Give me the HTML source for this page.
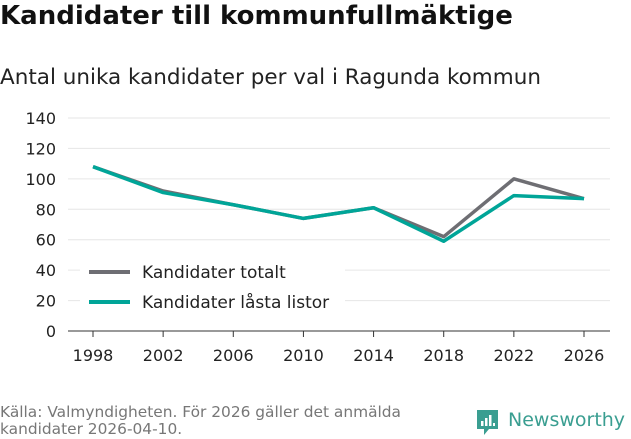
<!DOCTYPE html>
<html><head><meta charset="utf-8"><style>
body{margin:0;width:631px;height:439px;background:#fff;font-family:"DejaVu Sans","Liberation Sans",sans-serif;overflow:hidden;position:relative}
.t{position:absolute;white-space:nowrap}
</style></head><body>
<div class="t" style="left:0;top:1px;font-size:26px;font-weight:bold;color:#111">Kandidater till kommunfullmäktige</div>
<div class="t" style="left:0;top:65px;font-size:21.5px;color:#222">Antal unika kandidater per val i Ragunda kommun</div>
<svg id="c" width="631" height="439" style="position:absolute;left:0;top:0"></svg>
<div class="t" style="left:0;top:404px;font-size:15.4px;line-height:17px;color:#777">Källa: Valmyndigheten. För 2026 gäller det anmälda<br>kandidater 2026-04-10.</div>
<div style="position:absolute;left:476px;top:409px">
<svg width="24" height="28" style="position:absolute;left:0;top:0"><path d="M1 1h21v19H13l-5 6v-6H1z" fill="#3a9e91"/><rect x="5" y="12" width="2.5" height="5" fill="#fff"/><rect x="9" y="9" width="2.5" height="8" fill="#fff"/><rect x="13" y="6" width="2.5" height="11" fill="#fff"/><rect x="17" y="14" width="2" height="3" fill="#fff"/></svg>
<div class="t" style="left:32px;top:0px;font-size:19px;color:#3a9e91;font-weight:500">Newsworthy</div></div>
<script>
const years=[1998,2002,2006,2010,2014,2018,2022,2026];
const totalt=[108,92,83,74,81,62,100,87];
const lasta=[108,91,83,74,81,59,89,87];
const yTicks=[0,20,40,60,80,100,120,140];
const svg=document.getElementById('c');const NS='http://www.w3.org/2000/svg';
const x=v=>93+(v-1998)*(584-93)/28;const y=v=>331-v*(331-118)/140;
function el(t,a,p){const e=document.createElementNS(NS,t);for(const k in a)e.setAttribute(k,a[k]);(p||svg).appendChild(e);return e;}
yTicks.forEach(v=>{if(v>0){const g=el('line',{x1:68,x2:610,y1:y(v),y2:y(v),stroke:'#e6e6e6'});}
const t=el('text',{x:56,y:y(v)+6,'text-anchor':'end','font-size':16,fill:'#222'});t.textContent=v;
});
const ax=el('line',{x1:68,x2:610,y1:331,y2:331,stroke:'#333'});
years.forEach(v=>{el('line',{x1:x(v),x2:x(v),y1:331,y2:337,stroke:'#333'});
const t=el('text',{x:x(v),y:361,'text-anchor':'middle','font-size':16,fill:'#222'});t.textContent=v;
});
function line(d,c,n){const p=el('polyline',{points:d.map((v,i)=>x(years[i])+','+y(v)).join(' '),fill:'none',stroke:c,'stroke-width':3.5,'stroke-linejoin':'round'});
}
line(totalt,'#6e6e73','line-totalt');line(lasta,'#00a598','line-lasta');
el('rect',{x:80,y:258,width:265,height:60,fill:'#fff'});
[['Kandidater totalt','#6e6e73',272],['Kandidater låsta listor','#00a598',302]].forEach(([l,c,yy])=>{
const g=el('g',{});
el('line',{x1:89,x2:130,y1:yy,y2:yy,stroke:c,'stroke-width':4},g);
const t=el('text',{x:142,y:yy+6,'font-size':17,fill:'#222'},g);t.textContent=l;});
</script>
</body></html>
